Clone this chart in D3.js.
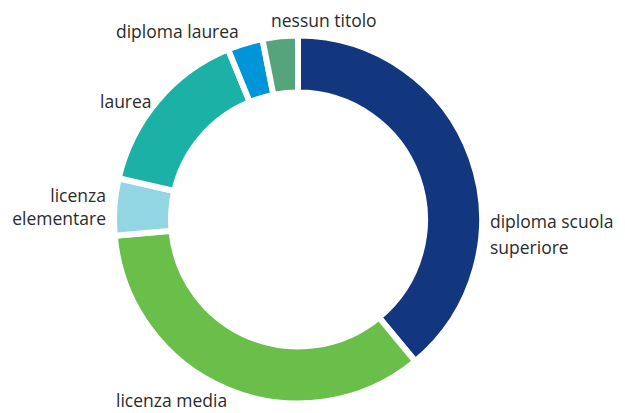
<!DOCTYPE html>
<html><head><meta charset="utf-8">
<script src="https://cdn.jsdelivr.net/npm/d3@7"></script>
<style>body{margin:0;background:#fff}svg{display:block}text{font-family:"Open Sans","Noto Sans",sans-serif;font-size:17.5px;fill:#2b2b2b}</style>
</head><body>
<script>
const categories = ["diploma scuola superiore","licenza media","licenza elementare","laurea","diploma laurea","nessun titolo"];
const values = [39.0, 34.6, 5.0, 15.2, 3.1, 3.1];
const colors = ["#12377f","#6abf4b","#93d6e3","#1bb1a7","#0095d9","#55a47b"];
const labelLines = [["diploma scuola","superiore"],["licenza media"],["licenza","elementare"],["laurea"],["diploma laurea"],["nessun titolo"]];

// layout (positions of labels, not data)
const layout = [
  {x:490,y:228,anchor:"start",lh:26},
  {x:116,y:407,anchor:"start",lh:22},
  {x:106,y:202,anchor:"end",lh:22.5},
  {x:100,y:108,anchor:"start",lh:22},
  {x:116,y:38,anchor:"start",lh:22},
  {x:271,y:27,anchor:"start",lh:22}
];

const W=625,H=413,cx=298,cy=219.5;
const svg=d3.select("body").append("svg").attr("width",W).attr("height",H);
const pie=d3.pie().sort(null).value(d=>d)(values);
const arc=d3.arc().innerRadius(127).outerRadius(184);
const g=svg.append("g").attr("transform",`translate(${cx},${cy})`);
g.selectAll("path").data(pie).join("path")
  .attr("d",arc).attr("fill",(d,i)=>colors[i])
  .attr("stroke","#fff").attr("stroke-width",6).attr("stroke-linejoin","miter");
layout.forEach((L,i)=>{
  const t=svg.append("text").attr("x",L.x).attr("y",L.y).attr("text-anchor",L.anchor);
  labelLines[i].forEach((s,j)=>t.append("tspan").attr("x",L.x).attr("dy",j?L.lh:0).text(s));
});
</script>
</body></html>
